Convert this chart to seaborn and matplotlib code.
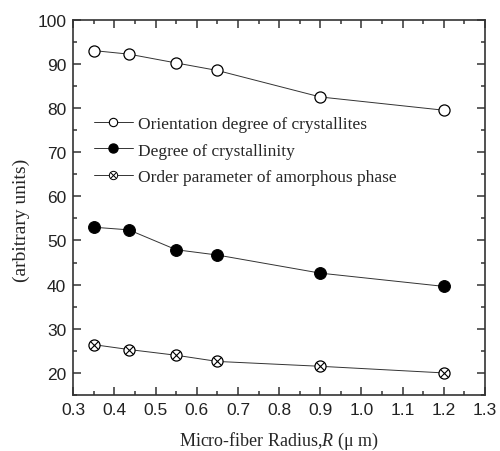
import matplotlib
matplotlib.use("Agg")
import matplotlib.pyplot as plt
import seaborn as sns
import pandas as pd
from matplotlib.lines import Line2D
from matplotlib.legend_handler import HandlerTuple
from matplotlib.ticker import MultipleLocator

# Data
radius = [0.35, 0.435, 0.55, 0.65, 0.9, 1.2]
orientation = [93.0, 92.2, 90.2, 88.5, 82.5, 79.5]
crystallinity = [53.0, 52.4, 47.9, 46.7, 42.6, 39.6]
order_param = [26.4, 25.3, 24.0, 22.6, 21.5, 20.0]
series_labels = ["Orientation degree of crystallites",
                 "Degree of crystallinity",
                 "Order parameter of amorphous phase"]

sns.set_style("ticks")
plt.rcParams["font.family"] = ["Liberation Sans", "DejaVu Sans"]
plt.rcParams["mathtext.fontset"] = "custom"
plt.rcParams["mathtext.rm"] = "Liberation Serif"
plt.rcParams["mathtext.it"] = "Liberation Serif:italic"

fig = plt.figure(figsize=(5.0, 4.52), dpi=100)
ax = fig.add_axes([0.1466, 0.1239, 0.8234, 0.8303])

df = pd.DataFrame({"R": radius, "o": orientation, "c": crystallinity, "a": order_param})

line_kw = dict(color="#333333", linewidth=0.7, ax=ax)
sns.lineplot(data=df, x="R", y="o", marker="o", markersize=8,
             markerfacecolor="white", markeredgecolor="black", markeredgewidth=0.9, **line_kw)
sns.lineplot(data=df, x="R", y="c", marker="o", markersize=8.5,
             markerfacecolor="black", markeredgecolor="black", **line_kw)
sns.lineplot(data=df, x="R", y="a", marker="o", markersize=8,
             markerfacecolor="white", markeredgecolor="black", markeredgewidth=0.9, **line_kw)
sns.lineplot(data=df, x="R", y="a", marker="x", markersize=6, linewidth=0,
             markeredgecolor="black", markeredgewidth=0.8, color="black", ax=ax)

ax.set_xlim(0.3, 1.3)
ax.set_ylim(15, 100)
ax.xaxis.set_major_locator(MultipleLocator(0.1))
ax.xaxis.set_minor_locator(MultipleLocator(0.05))
ax.yaxis.set_major_locator(MultipleLocator(10))
ax.yaxis.set_minor_locator(MultipleLocator(5))
ax.set_yticks([20, 30, 40, 50, 60, 70, 80, 90, 100])
ax.set_xticks([0.3, 0.4, 0.5, 0.6, 0.7, 0.8, 0.9, 1.0, 1.1, 1.2, 1.3])
ax.set_xticklabels([f"{v:.1f}" for v in ax.get_xticks()])

for s in ax.spines.values():
    s.set_visible(True)
    s.set_linewidth(1.2)
    s.set_color("#333333")
ax.tick_params(which="both", direction="in", top=True, right=True, color="#333333", width=1.1)
ax.tick_params(which="major", length=5.5, labelsize=12.5, pad=5, labelcolor="#222222")
ax.tick_params(which="minor", length=3)

serif = ["Liberation Serif", "DejaVu Serif"]
ax.set_xlabel("Micro-fiber Radius,$\\it{R}$ (\u03bc m)", fontsize=13, family=serif)
ax.set_ylabel("(arbitrary units)", fontsize=14, family=serif)
ax.xaxis.label.set_verticalalignment("center")
ax.yaxis.label.set_verticalalignment("center")
ax.xaxis.set_label_coords(0.5, -0.122)
ax.yaxis.set_label_coords(-0.127, 0.469)

h1 = Line2D([], [], color="#333333", lw=0.7, marker="o", markersize=6,
            markerfacecolor="white", markeredgecolor="black", markeredgewidth=0.8)
h2 = Line2D([], [], color="#333333", lw=0.7, marker="o", markersize=6.5,
            markerfacecolor="black", markeredgecolor="black")
h3a = Line2D([], [], color="#333333", lw=0.7, marker="o", markersize=6,
             markerfacecolor="white", markeredgecolor="black", markeredgewidth=0.7)
h3b = Line2D([], [], lw=0, marker="x", markersize=4.5, markeredgecolor="black", markeredgewidth=0.7)
leg = ax.legend([h1, h2, (h3a, h3b)], series_labels,
                handler_map={tuple: HandlerTuple(ndivide=1)},
                loc="upper left", bbox_to_anchor=(0.03, 0.768), frameon=False,
                borderpad=0, handlelength=2.2, handletextpad=0.3, labelspacing=0.62,
                prop={"family": serif, "size": 12.5})

fig.savefig("out.png", dpi=100)
